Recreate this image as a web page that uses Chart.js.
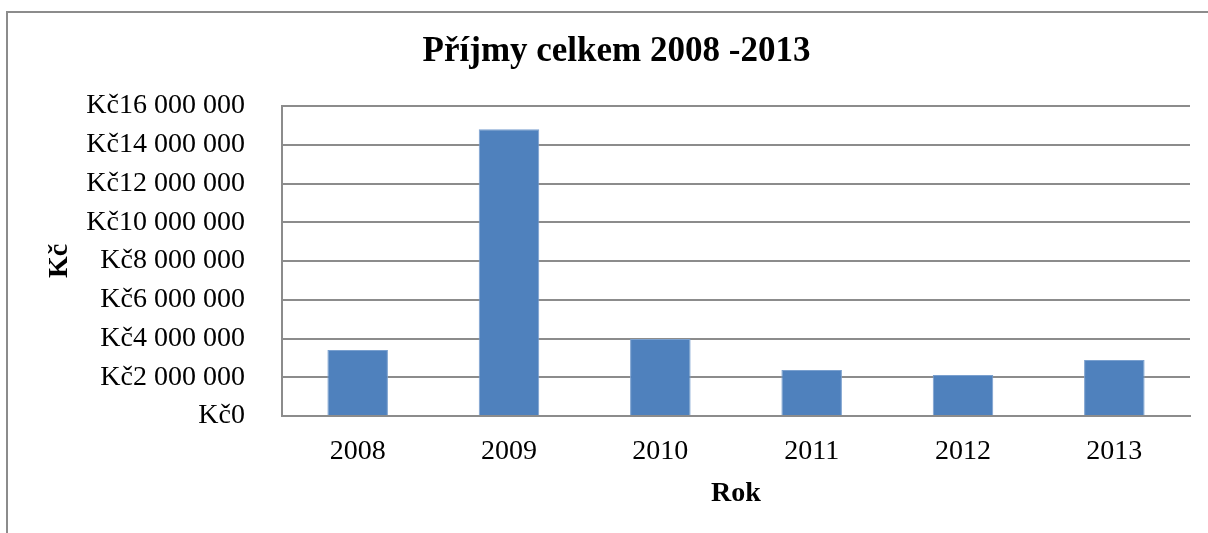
<!DOCTYPE html>
<html lang="cs">
<head>
<meta charset="utf-8">
<title>Příjmy celkem 2008 -2013</title>
<script src="https://cdn.jsdelivr.net/npm/chart.js@4/dist/chart.umd.min.js"></script>
<style>
  html, body { margin: 0; padding: 0; background: #fff; }
  #wrap { width: 1208px; height: 533px; position: relative; }
</style>
</head>
<body>
<div id="wrap"><canvas id="myChart" width="1208" height="533"></canvas></div>
<script>
// Data
const years = ['2008', '2009', '2010', '2011', '2012', '2013'];
const prijmy = [3410000, 14800000, 3970000, 2370000, 2120000, 2890000];
const yTicks = [0, 2000000, 4000000, 6000000, 8000000, 10000000, 12000000, 14000000, 16000000];

const chartTitle = 'Příjmy celkem 2008 -2013';
const xTitle = 'Rok';
const yTitle = 'Kč';

const serif = "'Liberation Serif', 'Times New Roman', serif";
const gridColor = '#8c8c8c';

// Format number as "Kč16 000 000"
function formatKc(v) {
  return 'Kč' + String(Math.round(v)).replace(/\B(?=(\d{3})+(?!\d))/g, ' ');
}

// Outer frame of the chart object (only top and left edges are visible)
const framePlugin = {
  id: 'frame',
  beforeDraw(chart) {
    const ctx = chart.ctx;
    ctx.save();
    ctx.strokeStyle = '#8c8c8c';
    ctx.lineWidth = 2;
    ctx.beginPath();
    ctx.moveTo(7, chart.height + 5);
    ctx.lineTo(7, 12);
    ctx.lineTo(chart.width + 5, 12);
    ctx.stroke();
    ctx.restore();
  }
};

const myChart = document.getElementById('myChart');

let barChart = new Chart(myChart, {
  type: 'bar',
  data: {
    labels: years,
    datasets: [{
      label: chartTitle,
      data: prijmy,
      backgroundColor: '#4f81bd',
      borderColor: '#7aa0cf',
      borderWidth: 1,
      barPercentage: 0.4,
      categoryPercentage: 1.0
    }]
  },
  options: {
    responsive: false,
    animation: false,
    devicePixelRatio: 1,
    layout: {
      padding: { left: 43, right: 18, top: 0, bottom: 22 }
    },
    plugins: {
      legend: { display: false },
      tooltip: { enabled: false },
      title: {
        display: true,
        text: chartTitle,
        color: '#000',
        font: { family: serif, size: 35, weight: 'bold' },
        padding: { top: 31, bottom: 33 }
      }
    },
    scales: {
      x: {
        grid: { display: false, drawTicks: false },
        border: { display: true, color: gridColor, width: 2 },
        ticks: {
          color: '#000',
          font: { family: serif, size: 28 },
          padding: 19,
          maxRotation: 0
        },
        title: {
          display: true,
          text: xTitle,
          color: '#000',
          font: { family: serif, size: 28, weight: 'bold' },
          padding: { top: 0, bottom: 0 }
        },
        afterFit(scale) { scale.height = 95; }
      },
      y: {
        min: 0,
        max: 16000000,
        afterBuildTicks(scale) {
          scale.ticks = yTicks.map(v => ({ value: v }));
        },
        grid: { color: gridColor, lineWidth: 2, drawTicks: false },
        border: { display: true, color: gridColor, width: 2 },
        ticks: {
          color: '#000',
          font: { family: serif, size: 28 },
          padding: 37,
          callback: v => formatKc(v)
        },
        title: {
          display: true,
          text: yTitle,
          color: '#000',
          font: { family: serif, size: 28, weight: 'bold' },
          padding: { top: 0, bottom: 0 }
        },
        afterFit(scale) { scale.width = 239; }
      }
    }
  },
  plugins: [framePlugin]
});
</script>
</body>
</html>
